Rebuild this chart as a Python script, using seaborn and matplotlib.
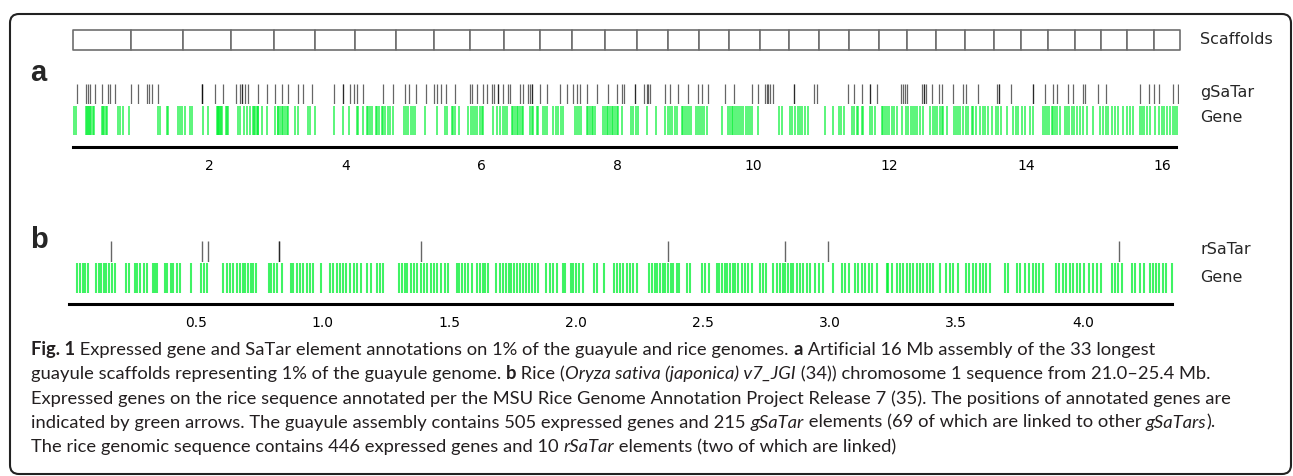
import matplotlib
matplotlib.use("Agg")
import numpy as np
import matplotlib.pyplot as plt
from matplotlib.patches import FancyBboxPatch
from matplotlib.transforms import IdentityTransform
import seaborn as sns

# ---------------- data (positions in Mb) ----------------
scaffold_lengths = [0.86, 0.75, 0.71, 0.63, 0.61, 0.59, 0.59, 0.56, 0.53, 0.51, 0.52,
                    0.47, 0.48, 0.47, 0.46, 0.46, 0.44, 0.45, 0.43, 0.44, 0.44, 0.44,
                    0.41, 0.43, 0.43, 0.42, 0.40, 0.39, 0.40, 0.38, 0.39, 0.39, 0.39]

gsatar_pos = [
    0.056, 0.188, 0.226, 0.251, 0.325, 0.423, 0.520, 0.545, 0.618, 0.854, 0.961, 1.084,
    1.118, 1.158, 1.255, 1.892, 1.892, 1.901, 2.088, 2.209, 2.392, 2.455, 2.480, 2.480,
    2.528, 2.568, 2.724, 2.847, 2.969, 3.067, 3.164, 3.311, 3.385, 3.508, 3.840, 3.972,
    3.972, 4.071, 4.130, 4.178, 4.257, 4.551, 4.707, 4.879, 4.942, 5.040, 5.187, 5.309,
    5.344, 5.403, 5.481, 5.613, 5.834, 5.859, 5.932, 6.020, 6.079, 6.152, 6.186, 6.250,
    6.250, 6.323, 6.396, 6.421, 6.568, 6.617, 6.690, 6.715, 6.740, 6.740, 6.862, 6.960,
    7.156, 7.254, 7.351, 7.410, 7.450, 7.548, 7.695, 7.866, 7.989, 8.062, 8.100, 8.258,
    8.258, 8.394, 8.430, 8.453, 8.478, 8.698, 8.772, 8.894, 9.032, 9.188, 9.246, 9.334,
    9.580, 9.716, 9.972, 10.069, 10.167, 10.192, 10.216, 10.241, 10.290, 10.598, 10.598,
    10.892, 10.927, 11.391, 11.479, 11.597, 11.710, 11.710, 11.808, 12.161, 12.191,
    12.225, 12.249, 12.470, 12.503, 12.503, 12.528, 12.616, 12.728, 12.763, 12.925,
    13.072, 13.120, 13.301, 13.571, 13.610, 13.610, 13.782, 14.109, 14.109, 14.281,
    14.394, 14.453, 14.623, 14.688, 14.835, 14.869, 15.064, 15.177, 15.676, 15.813,
    15.882, 15.960, 16.166, 16.239]

guayule_gene_pos = [
    0.021, 0.041, 0.188, 0.202, 0.217, 0.237, 0.251, 0.266, 0.300, 0.315, 0.432, 0.447,
    0.462, 0.481, 0.496, 0.667, 0.692, 0.741, 0.824, 1.245, 1.279, 1.377, 1.402, 1.549,
    1.573, 1.608, 1.647, 1.720, 1.755, 1.916, 1.990, 2.112, 2.127, 2.137, 2.146, 2.161,
    2.176, 2.186, 2.249, 2.259, 2.274, 2.430, 2.455, 2.519, 2.553, 2.602, 2.651, 2.666,
    2.675, 2.700, 2.714, 2.724, 2.773, 2.846, 2.969, 3.008, 3.018, 3.043, 3.067, 3.091,
    3.116, 3.140, 3.165, 3.263, 3.312, 3.459, 3.483, 3.557, 3.841, 3.973,
    4.061, 4.169, 4.193, 4.267, 4.316, 4.340, 4.365, 4.389, 4.453, 4.472, 4.502, 4.536,
    4.560, 4.585, 4.634, 4.658, 4.707, 4.864, 4.893, 4.928, 4.962, 4.991, 5.026, 5.173,
    5.344, 5.466, 5.501, 5.564, 5.589, 5.613, 5.677, 5.809, 5.843, 5.873, 5.907, 5.932,
    5.981, 6.005, 6.030, 6.177, 6.235, 6.274, 6.314, 6.348, 6.372, 6.446, 6.470, 6.495,
    6.519, 6.544, 6.568, 6.593, 6.617, 6.715, 6.740, 6.764, 6.813, 6.838, 6.911, 6.936,
    6.970, 7.048, 7.097, 7.131, 7.166, 7.205, 7.376, 7.411, 7.440, 7.459, 7.548, 7.572,
    7.597, 7.621, 7.646, 7.670, 7.793, 7.817, 7.842, 7.866, 7.891, 7.915, 7.940, 7.964,
    7.989, 8.013, 8.062, 8.199, 8.233, 8.268, 8.297, 8.429, 8.561, 8.698, 8.737, 8.771,
    8.806, 8.845, 8.869, 8.943, 8.967, 8.992, 9.016, 9.050, 9.080, 9.148, 9.178, 9.212,
    9.246, 9.276, 9.310, 9.530, 9.628, 9.652, 9.677, 9.701, 9.726, 9.750, 9.785, 9.814,
    9.848, 9.883, 9.912, 9.946, 9.971, 10.069, 10.373, 10.422, 10.534, 10.569, 10.608,
    10.647, 10.681, 10.706, 10.755, 10.794, 11.049, 11.171, 11.255, 11.284, 11.333,
    11.450, 11.480, 11.514, 11.538, 11.587, 11.612, 11.710, 11.744, 11.783, 11.881,
    11.906, 11.930, 11.955, 11.989, 12.028, 12.063, 12.112, 12.176, 12.239, 12.274,
    12.308, 12.337, 12.371, 12.405, 12.445, 12.484, 12.592, 12.631, 12.665, 12.699,
    12.738, 12.763, 12.787, 12.846, 12.944, 12.973, 13.008, 13.032, 13.081, 13.120,
    13.155, 13.204, 13.228, 13.267, 13.326, 13.365, 13.399, 13.448, 13.497, 13.561,
    13.595, 13.630, 13.718, 13.806, 13.855, 13.889, 13.938, 13.987, 14.061, 14.110,
    14.257, 14.281, 14.306, 14.345, 14.379, 14.404, 14.428, 14.453, 14.502, 14.575,
    14.600, 14.639, 14.673, 14.708, 14.747, 14.796, 14.845, 14.894, 14.992, 15.090,
    15.139, 15.178, 15.212, 15.261, 15.310, 15.359, 15.423, 15.481, 15.530, 15.579,
    15.677, 15.701, 15.736, 15.775, 15.824, 15.897, 15.960, 15.995, 16.029, 16.068,
    16.117, 16.156, 16.191, 16.225]

rsatar_pos = [0.165, 0.522, 0.549, 0.826, 0.826, 1.387, 2.364, 2.824, 2.993, 4.141]

rice_gene_pos = [
    0.032, 0.042, 0.053, 0.063, 0.074, 0.105, 0.116, 0.126, 0.137, 0.147, 0.158, 0.169,
    0.180, 0.224, 0.234, 0.259, 0.268, 0.279, 0.295, 0.308, 0.332, 0.340, 0.347, 0.376,
    0.387, 0.400, 0.410, 0.424, 0.437, 0.479, 0.518, 0.531, 0.545, 0.605, 0.624, 0.634,
    0.647, 0.663, 0.674, 0.684, 0.695, 0.705, 0.716, 0.726, 0.737, 0.787, 0.797, 0.808,
    0.818, 0.838, 0.874, 0.884, 0.897, 0.910, 0.924, 0.937, 0.950, 0.963, 0.992, 1.029,
    1.039, 1.058, 1.068, 1.081, 1.094, 1.108, 1.123, 1.137, 1.150, 1.174, 1.189, 1.216,
    1.226, 1.239, 1.302, 1.313, 1.323, 1.334, 1.347, 1.360, 1.373, 1.387, 1.400, 1.413,
    1.426, 1.439, 1.453, 1.466, 1.483, 1.496, 1.529, 1.539, 1.550, 1.562, 1.575, 1.588,
    1.610, 1.621, 1.631, 1.642, 1.654, 1.684, 1.700, 1.713, 1.723, 1.734, 1.745, 1.755,
    1.766, 1.779, 1.792, 1.802, 1.813, 1.825, 1.838, 1.851, 1.881, 1.897, 1.910, 1.923,
    1.947, 1.956, 1.979, 1.989, 2.000, 2.013, 2.026, 2.070, 2.084, 2.110, 2.149, 2.160,
    2.173, 2.186, 2.200, 2.213, 2.226, 2.239, 2.289, 2.300, 2.310, 2.321, 2.331, 2.342,
    2.352, 2.363, 2.373, 2.384, 2.397, 2.407, 2.436, 2.450, 2.496, 2.509, 2.526, 2.555,
    2.565, 2.576, 2.586, 2.597, 2.607, 2.618, 2.628, 2.640, 2.653, 2.667, 2.680, 2.693,
    2.726, 2.736, 2.749, 2.778, 2.794, 2.805, 2.815, 2.826, 2.836, 2.847, 2.857, 2.870,
    2.884, 2.897, 2.910, 2.923, 2.943, 2.960, 2.976, 3.015, 3.048, 3.061, 3.075, 3.101,
    3.114, 3.127, 3.140, 3.154, 3.167, 3.189, 3.226, 3.232, 3.245, 3.265, 3.278, 3.291,
    3.305, 3.318, 3.331, 3.344, 3.357, 3.370, 3.384, 3.397, 3.410, 3.434, 3.460, 3.476,
    3.489, 3.505, 3.539, 3.552, 3.565, 3.578, 3.592, 3.605, 3.618, 3.633, 3.693, 3.706,
    3.739, 3.752, 3.772, 3.789, 3.802, 3.815, 3.828, 3.841, 3.894, 3.907, 3.920, 3.933,
    3.947, 3.960, 3.976, 3.989, 4.005, 4.022, 4.041, 4.057, 4.070, 4.114, 4.127, 4.140,
    4.153, 4.193, 4.206, 4.226, 4.239, 4.263, 4.276, 4.289, 4.302, 4.315, 4.328, 4.351]

guayule_ticks = [2, 4, 6, 8, 10, 12, 14, 16]
rice_ticks = [0.5, 1.0, 1.5, 2.0, 2.5, 3.0, 3.5, 4.0]
guayule_len = 16.2
rice_len = 4.35

caption_lines = [
    [("Fig. 1", "b"), (" Expressed gene and SaTar element annotations on 1% of the guayule and rice genomes. ", "n"),
     ("a", "b"), (" Artificial 16 Mb assembly of the 33 longest", "n")],
    [("guayule scaffolds representing 1% of the guayule genome. ", "n"), ("b", "b"), (" Rice (", "n"),
     ("Oryza sativa (japonica) v7_JGI", "i"), (" (34)) chromosome 1 sequence from 21.0\u201325.4 Mb.", "n")],
    [("Expressed genes on the rice sequence annotated per the MSU Rice Genome Annotation Project Release 7 (35). "
      "The positions of annotated genes are", "n")],
    [("indicated by green arrows. The guayule assembly contains 505 expressed genes and 215 ", "n"),
     ("gSaTar", "i"), (" elements (69 of which are linked to other ", "n"), ("gSaTars", "i"), (").", "n")],
    [("The rice genomic sequence contains 446 expressed genes and 10 ", "n"), ("rSaTar", "i"),
     (" elements (two of which are linked)", "n")],
]

# ---------------- figure ----------------
sns.set_style("white")
plt.rcParams["font.family"] = ["DejaVu Sans"]

W, H = 1293, 476
fig = plt.figure(figsize=(W / 100, H / 100), dpi=100)
fig.patch.set_facecolor("white")

X0, X1 = 70, 1179
A_LIM = (-0.043, 16.25)
B_LIM = (0.003, 4.379)
GREEN = "#00f030"


def px_axes(y_top, y_bot, x0=X0, x1=X1):
    return fig.add_axes([x0 / W, 1 - y_bot / H, (x1 - x0) / W, (y_bot - y_top) / H])


def track(y_top, y_bot, pos, color, alpha, width, xlim):
    ax = px_axes(y_top, y_bot)
    sns.rugplot(x=pos, height=1, color=color, alpha=alpha, linewidth=width, ax=ax,
                expand_margins=False)
    ax.set_xlim(*xlim)
    ax.set_ylim(0, 1)
    ax.set_axis_off()
    return ax


def scale_axis(y, ticks, length, xlim, fmt):
    ax = px_axes(y - 6, y)
    ax.set_xlim(*xlim)
    for s in ["left", "right", "top"]:
        ax.spines[s].set_visible(False)
    ax.spines["bottom"].set_bounds(0, length)
    ax.spines["bottom"].set_linewidth(2.2)
    ax.spines["bottom"].set_color("black")
    ax.patch.set_visible(False)
    ax.set_yticks([])
    ax.set_xticks(ticks)
    ax.set_xticklabels([fmt.format(t) for t in ticks])
    ax.tick_params(axis="x", length=7, width=1, direction="out", pad=1.5,
                   labelsize=10, colors="black")
    return ax


# panel a: scaffolds
ax_sc = px_axes(29.5, 50)
starts = np.concatenate([[0], np.cumsum(scaffold_lengths)[:-1]])
ax_sc.broken_barh(list(zip(starts, scaffold_lengths)), (0, 1), facecolors="white",
                  edgecolors="#6e6e6e", linewidth=1.2, clip_on=False)
ax_sc.set_xlim(A_LIM)
ax_sc.set_ylim(0, 1)
ax_sc.set_axis_off()

track(84, 104, gsatar_pos, "black", 0.6, 0.9, A_LIM)
track(106, 135, guayule_gene_pos, GREEN, 0.72, 1.25, A_LIM)
scale_axis(147, guayule_ticks, guayule_len, A_LIM, "{:g}")

# panel b
track(241, 262, rsatar_pos, "black", 0.6, 1.0, B_LIM)
track(263, 293, rice_gene_pos, GREEN, 0.75, 1.5, B_LIM)
scale_axis(304, rice_ticks, rice_len, B_LIM, "{:.1f}")

# labels
ident = IdentityTransform()
fig.text(38, H - 73, "a", transform=ident, fontsize=21, fontweight="bold",
         family="Liberation Sans", ha="center", va="center")
fig.text(39, H - 240, "b", transform=ident, fontsize=21, fontweight="bold",
         family="Liberation Sans", ha="center", va="center")
for label, yy in [("Scaffolds", 40), ("gSaTar", 92), ("Gene", 118), ("rSaTar", 250), ("Gene", 278)]:
    fig.text(1200, H - yy, label, transform=ident, fontsize=11.5, ha="left", va="center")

# caption
renderer = fig.canvas.get_renderer()
CAP = dict(fontsize=13.2, family="Lato", color="#231f20")


def run_width(s, kw):
    t1 = fig.text(0, 0, s + "|", transform=ident, **kw)
    t2 = fig.text(0, 0, "|", transform=ident, **kw)
    w = t1.get_window_extent(renderer).width - t2.get_window_extent(renderer).width
    t1.remove()
    t2.remove()
    return w


for i, runs in enumerate(caption_lines):
    x = 31
    yb = 355 + 24.3 * i
    for s, style in runs:
        kw = dict(CAP)
        if style == "b":
            kw["fontweight"] = "bold"
        elif style == "i":
            kw["style"] = "italic"
        fig.text(x, H - yb, s, transform=ident, va="baseline", ha="left", **kw)
        x += run_width(s, kw)

# rounded frame
frame = FancyBboxPatch((10, 2), 1281, 460, boxstyle="round,pad=0,rounding_size=9",
                       transform=ident, facecolor="none", edgecolor="#222222", linewidth=1.5)
fig.add_artist(frame)

fig.savefig("out.png", dpi=100)
